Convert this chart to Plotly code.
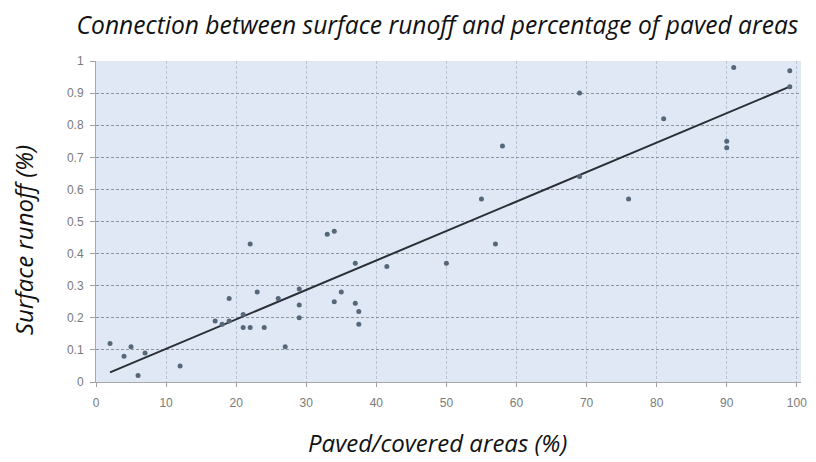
import plotly.graph_objects as go

# Data
paved_pct = [2, 4, 5, 6, 7, 12, 17, 18, 19, 19, 21, 21, 22, 22, 23, 24, 26, 27,
             29, 29, 29, 33, 34, 34, 35, 37, 37, 37.5, 37.5, 41.5, 50, 55, 57, 58,
             69, 69, 76, 81, 90, 90, 91, 99, 99]
runoff = [0.12, 0.08, 0.11, 0.02, 0.09, 0.05, 0.19, 0.18, 0.19, 0.26, 0.21, 0.17,
          0.17, 0.43, 0.28, 0.17, 0.26, 0.11, 0.29, 0.24, 0.20, 0.46, 0.47, 0.25,
          0.28, 0.37, 0.245, 0.22, 0.18, 0.36, 0.37, 0.57, 0.43, 0.735,
          0.90, 0.64, 0.57, 0.82, 0.75, 0.73, 0.98, 0.97, 0.92]

# Linear trend line endpoints
trend_x = [2, 99]
trend_y = [0.03, 0.92]

x_ticks = list(range(0, 101, 10))
y_ticks = [0, 0.1, 0.2, 0.3, 0.4, 0.5, 0.6, 0.7, 0.8, 0.9, 1]
y_tick_text = ["0", "0.1", "0.2", "0.3", "0.4", "0.5", "0.6", "0.7", "0.8", "0.9", "1"]

title_text = "Connection between surface runoff and percentage of paved areas"
x_title = "Paved/covered areas (%)"
y_title = "Surface runoff (%)"

fig = go.Figure()
fig.add_trace(go.Scatter(
    x=trend_x, y=trend_y, mode="lines",
    line=dict(color="#2a2e35", width=2), showlegend=False, hoverinfo="skip"))
fig.add_trace(go.Scatter(
    x=paved_pct, y=runoff, mode="markers",
    marker=dict(size=5, color="#56677a"), showlegend=False))

tick_font = dict(family="Liberation Sans, Arial, sans-serif", size=12, color="#7a7a7a")
big_font = dict(family="Open Sans, sans-serif", size=24.6, color="#111111", style="italic")
axis_font = dict(family="Open Sans, sans-serif", size=24, color="#111111", style="italic")

# The page body adds an 8px margin, so the figure is 808x454 inside an 816x462 window
fig.update_layout(
    width=808, height=454,
    margin=dict(l=88, r=15, t=53, b=80, autoexpand=False),
    paper_bgcolor="white",
    plot_bgcolor="#dfe8f4",
    title=dict(text=title_text, x=0.5316, xanchor="center", y=0.9626, yanchor="middle",
               font=big_font),
    annotations=[
        dict(text=x_title, xref="paper", yref="paper", x=0.4844, y=-0.188,
             xanchor="center", yanchor="middle", showarrow=False, font=axis_font),
        dict(text=y_title, xref="paper", yref="paper", x=-0.1035, y=0.442,
             xanchor="center", yanchor="middle", showarrow=False, textangle=-90,
             font=axis_font),
    ],
)
fig.update_xaxes(
    range=[0, 100.6], tickvals=x_ticks, ticks="outside", ticklen=4, tickcolor="#a0a0a0",
    showline=True, linecolor="#a8a8a8", linewidth=1, automargin=False,
    showgrid=True, gridcolor="#b9c3d1", griddash="3px,2px", gridwidth=1,
    zeroline=False, tickfont=tick_font, ticklabelstandoff=6,
)
fig.update_yaxes(
    range=[0, 1.0], tickvals=y_ticks, ticktext=y_tick_text, ticks="outside", ticklen=5,
    tickcolor="#a0a0a0", automargin=False,
    showline=True, linecolor="#a8a8a8", linewidth=1,
    showgrid=True, gridcolor="#8e949c", griddash="3px,2px", gridwidth=1,
    zeroline=False, tickfont=tick_font, ticklabelstandoff=4,
)

fig.write_html("out.html")
